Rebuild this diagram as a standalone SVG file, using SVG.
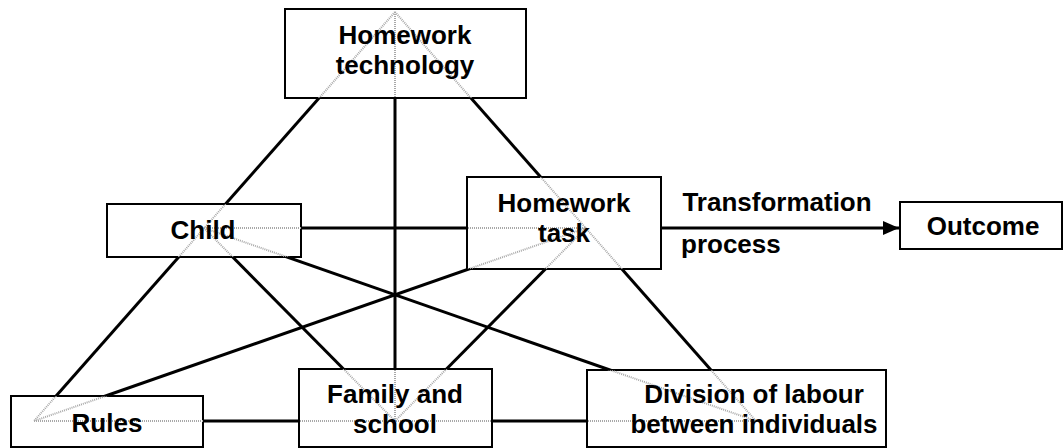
<svg xmlns="http://www.w3.org/2000/svg" width="1064" height="448" viewBox="0 0 1064 448">
<style>
.box{fill:#fff;stroke:#000;stroke-width:2}
.ln{stroke:#000;stroke-width:3;fill:none}
.gl{stroke:#a8a8a8;stroke-width:2;stroke-dasharray:1 1;fill:none}
.t{font-family:"Liberation Sans",Arial,sans-serif;font-weight:bold;font-size:26px;fill:#000;text-anchor:middle}
</style>
<defs>
<marker id="arr" markerWidth="16" markerHeight="14" refX="16" refY="7" orient="auto" markerUnits="userSpaceOnUse">
<path d="M0,0 L16,7 L0,14 Z" fill="#000"/>
</marker>
<clipPath id="inside">
<rect x="285" y="9" width="241" height="89"/>
<rect x="107" y="204" width="194" height="53"/>
<rect x="467" y="177" width="194" height="92"/>
<rect x="11" y="396" width="192" height="51"/>
<rect x="299" y="369" width="193" height="78"/>
<rect x="587" y="370" width="299" height="77"/>
</clipPath>
</defs>
<g id="connectors">
<g class="ln">
<line x1="395" y1="12" x2="34" y2="421"/>
<line x1="395" y1="12" x2="756" y2="421"/>
<line x1="395" y1="12" x2="395" y2="421"/>
<line x1="34" y1="421" x2="756" y2="421"/>
<line x1="204" y1="228" x2="586" y2="228"/>
<line x1="204" y1="228" x2="756" y2="421"/>
<line x1="586" y1="228" x2="34" y2="421"/>
<line x1="204" y1="228" x2="395" y2="421"/>
<line x1="586" y1="228" x2="395" y2="421"/>
</g>
<line class="ln" x1="661" y1="228" x2="899" y2="228" marker-end="url(#arr)"/>
</g>
<g id="node-technology"><rect class="box" x="285" y="9" width="241" height="89"/></g>
<g id="node-child"><rect class="box" x="107" y="204" width="194" height="53"/></g>
<g id="node-task"><rect class="box" x="467" y="177" width="194" height="92"/></g>
<g id="node-outcome"><rect class="box" x="900" y="202" width="162" height="47"/></g>
<g id="node-rules"><rect class="box" x="11" y="396" width="192" height="51"/></g>
<g id="node-family"><rect class="box" x="299" y="369" width="193" height="78"/></g>
<g id="node-division"><rect class="box" x="587" y="370" width="299" height="77"/></g>
<g id="hidden-lines" clip-path="url(#inside)" class="gl">
<line x1="395" y1="12" x2="34" y2="421"/>
<line x1="395" y1="12" x2="756" y2="421"/>
<line x1="395" y1="12" x2="395" y2="421"/>
<line x1="34" y1="421" x2="756" y2="421"/>
<line x1="204" y1="228" x2="586" y2="228"/>
<line x1="204" y1="228" x2="756" y2="421"/>
<line x1="586" y1="228" x2="34" y2="421"/>
<line x1="204" y1="228" x2="395" y2="421"/>
<line x1="586" y1="228" x2="395" y2="421"/>
</g>
<g id="labels">
<text class="t" x="405" y="44">Homework</text>
<text class="t" x="405" y="74">technology</text>
<text class="t" x="203" y="239">Child</text>
<text class="t" x="564" y="212">Homework</text>
<text class="t" x="564" y="242">task</text>
<text class="t" x="983" y="235">Outcome</text>
<text class="t" x="107" y="432">Rules</text>
<text class="t" x="395" y="403">Family and</text>
<text class="t" x="395" y="433">school</text>
<text class="t" x="754" y="403">Division of labour</text>
<text class="t" x="754" y="433">between individuals</text>
<text class="t" x="777" y="211">Transformation</text>
<text class="t" x="681" y="253" style="text-anchor:start">process</text>
</g>
</svg>
